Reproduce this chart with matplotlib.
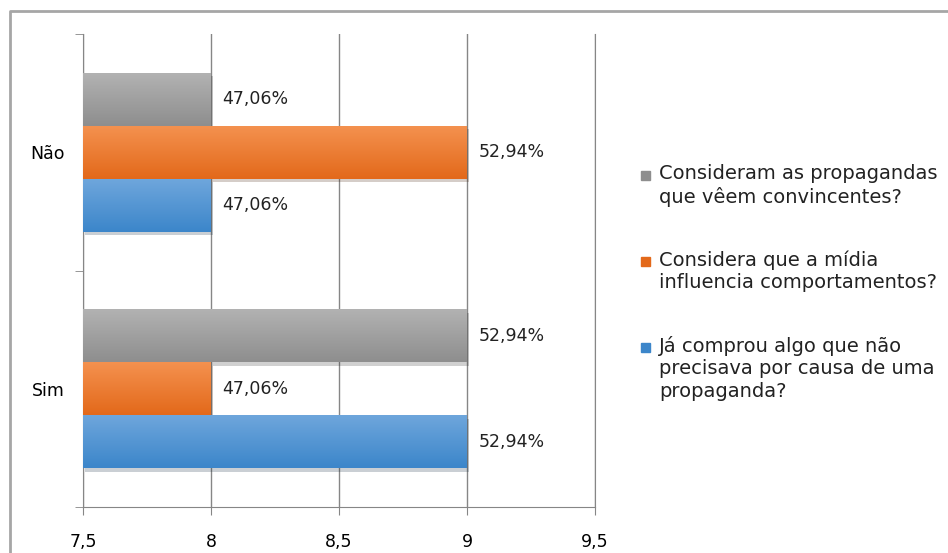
import matplotlib.pyplot as plt
import matplotlib.patheffects as pe
from matplotlib.lines import Line2D
from matplotlib.patches import Rectangle
import numpy as np

# dados
categorias = ["Sim", "Não"]
series = ["Já comprou algo que não\nprecisava por causa de uma\npropaganda?",
          "Considera que a mídia\ninfluencia comportamentos?",
          "Consideram as propagandas\nque vêem convincentes?"]
valores = [[9, 8],   # azul
           [8, 9],   # laranja
           [9, 8]]   # cinza
rotulos = [["52,94%", "47,06%"],
           ["47,06%", "52,94%"],
           ["52,94%", "47,06%"]]
cores_topo = ["#6ea6dc", "#f4914f", "#b2b2b2"]
cores_base = ["#3c86ca", "#e3691a", "#8e8e8e"]
xticks = [7.5, 8, 8.5, 9, 9.5]
xtick_txt = ["7,5", "8", "8,5", "9", "9,5"]

fonte = "DejaVu Sans"

fig = plt.figure(figsize=(9.48, 5.53), dpi=100)
ax = fig.add_axes([83/948, 1-507/553, (595-83)/948, (507-34)/553])

h = 0.224
y = np.arange(len(categorias))
for i in range(len(series)):
    pos = y + (i - 1) * h
    bars = ax.barh(pos, np.array(valores[i]) - 7.5, left=7.5, height=h,
                   color=cores_base[i], zorder=3,
                   path_effects=[pe.SimplePatchShadow(offset=(1.5, -2.5), alpha=0.22), pe.Normal()])
    c1 = np.array(plt.matplotlib.colors.to_rgb(cores_topo[i]))
    c2 = np.array(plt.matplotlib.colors.to_rgb(cores_base[i]))
    t = np.linspace(0, 1, 64)[:, None]
    grad = (c1 * (1 - t) + c2 * t)[:, None, :]
    for b, v, lab in zip(bars, valores[i], rotulos[i]):
        x0, y0 = b.get_x(), b.get_y()
        im = ax.imshow(grad, extent=[x0, x0 + b.get_width(), y0, y0 + h],
                       aspect="auto", origin="upper", zorder=4)
        im.set_clip_path(b)
        ax.text(v + 0.045, y0 + h/2, lab, va="center", ha="left",
                fontsize=12.5, family=fonte, color="#222222", zorder=5)

ax.set_xlim(7.5, 9.5)
ax.set_ylim(-0.5, 1.5)
ax.set_xticks(xticks)
ax.set_xticklabels(xtick_txt, family=fonte, fontsize=12.5)
ax.set_yticks(y)
ax.set_yticklabels(categorias, family=fonte, fontsize=12.5)
ax.set_yticks([-0.5, 0.5, 1.5], minor=True)
ax.tick_params(axis="y", which="major", length=0, pad=13)
ax.tick_params(axis="y", which="minor", length=6, color="#868686")
ax.tick_params(axis="x", length=6, color="#868686", pad=13)
ax.grid(axis="x", color="#868686", linewidth=1, zorder=0)
ax.spines["top"].set_visible(False)
for s in ["left", "bottom", "right"]:
    ax.spines[s].set_color("#868686")

# legenda manual
leg_y = [176, 262, 348]
for i, yy in zip([2, 1, 0], leg_y):
    fig.patches.append(Rectangle((641/948, 1-(yy+4)/553), 9/948, 9/553,
                                 transform=fig.transFigure, color=cores_base[i]))
    fig.text(659/948, 1-(yy-12)/553, series[i], va="top", ha="left",
             family=fonte, fontsize=14, linespacing=1.22, color="#222222")

# moldura
fig.add_artist(Line2D([10/948, 10/948, 1], [0, 1-11/553, 1-11/553],
                      transform=fig.transFigure, color="#a6a6a6", linewidth=2))

fig.savefig("out.png", dpi=100)
